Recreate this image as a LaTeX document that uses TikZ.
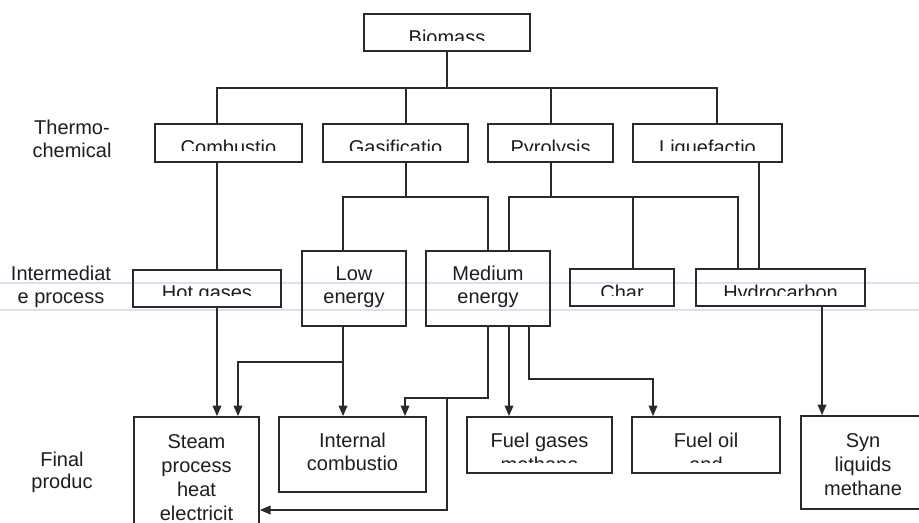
\documentclass[tikz,border=0pt]{standalone}
\usepackage{fontspec}
\setmainfont{Liberation Sans}
\usetikzlibrary{arrows.meta,fit}
\definecolor{linecol}{HTML}{2A2A2A}
\definecolor{textcol}{HTML}{1E1E1E}
\definecolor{guidecol}{HTML}{D8E1F2}
\begin{document}
\begin{tikzpicture}[x=0.75pt,y=-0.75pt,
  box/.style={draw=linecol, line width=1.25pt, inner sep=0pt, rectangle},
  ln/.style={draw=linecol, line width=1.25pt},
  arr/.style={ln, -{Triangle[length=8pt,width=6.5pt]}},
  txt/.style={anchor=base, inner sep=0pt, text=textcol, font=\fontsize{15}{18}\selectfont},
  guide/.style={draw=guidecol, line width=1.6pt}]
\useasboundingbox (0,0) rectangle (919,523);
\clip (0,0) rectangle (919,523);
\fill[white] (0,0) rectangle (919,523);

% faint ruled lines of the scan
\draw[guide] (0,283) -- (919,283);
\draw[guide] (0,310) -- (919,310);

% boxes
\node[box, fit={(364,14) (530,51)}] (bio) {};
\node[box, fit={(155,124) (302,162)}] (comb) {};
\node[box, fit={(323,124) (468,162)}] (gas) {};
\node[box, fit={(488,124) (613,162)}] (pyr) {};
\node[box, fit={(633,124) (782,162)}] (liq) {};
\node[box, fit={(133,270) (281,307)}] (hot) {};
\node[box, fit={(302,251) (406,326)}] (low) {};
\node[box, fit={(426,251) (550,326)}] (med) {};
\node[box, fit={(570,269) (674,306)}] (char) {};
\node[box, fit={(696,269) (865,306)}] (hyd) {};
\node[box, fit={(134,417) (259,545)}] (steam) {};
\node[box, fit={(279,417) (426,492)}] (int) {};
\node[box, fit={(467,417) (612,473)}] (fuelg) {};
\node[box, fit={(632,417) (780,473)}] (fuelo) {};
\node[box, fit={(801,416) (930,509)}] (syn) {};

% clipped box texts
\begin{scope}\clip (bio.north west) rectangle (bio.east |- 0,41);
  \node[txt] (tbio) at (447,44.3) {Biomass};\end{scope}
\begin{scope}\clip (comb.north west) rectangle (comb.east |- 0,151);
  \node[txt] (tcomb) at (228.5,154.3) {Combustio};\end{scope}
\begin{scope}\clip (gas.north west) rectangle (gas.east |- 0,151);
  \node[txt] (tgas) at (395.5,154.3) {Gasificatio};\end{scope}
\begin{scope}\clip (pyr.north west) rectangle (pyr.east |- 0,151);
  \node[txt] (tpyr) at (550.5,154.3) {Pyrolysis};\end{scope}
\begin{scope}\clip (liq.north west) rectangle (liq.east |- 0,151);
  \node[txt] (tliq) at (707.5,154.3) {Liquefactio};\end{scope}
\begin{scope}\clip (hot.north west) rectangle (hot.east |- 0,296);
  \node[txt] (thot) at (207,299.3) {Hot gases};\end{scope}
\begin{scope}\clip (char.north west) rectangle (char.east |- 0,296);
  \node[txt] (tchar) at (622,299.3) {Char};\end{scope}
\begin{scope}\clip (hyd.north west) rectangle (hyd.east |- 0,296);
  \node[txt] (thyd) at (780.5,299.3) {Hydrocarbon};\end{scope}

% unclipped box texts
\node[txt] (tlow1) at (354,281) {Low};
\node[txt] (tlow2) at (354,304) {energy};
\node[txt] (tmed1) at (488,281) {Medium};
\node[txt] (tmed2) at (488,304) {energy};
\node[txt] (tst1) at (196.5,448) {Steam};
\node[txt] (tst2) at (196.5,472) {process};
\node[txt] (tst3) at (196.5,496) {heat};
\node[txt] (tst4) at (196.5,520) {electricit};
\node[txt] (tint1) at (352.5,447) {Internal};
\node[txt] (tint2) at (352.5,470) {combustio};
\node[txt] (tfg1) at (539.5,447) {Fuel gases};
\begin{scope}\clip (fuelg.west |- 0,420) rectangle (fuelg.east |- 0,462);
  \node[txt] (tfg2) at (539.5,471) {methane};\end{scope}
\node[txt] (tfo1) at (706,447) {Fuel oil};
\begin{scope}\clip (fuelo.west |- 0,420) rectangle (fuelo.east |- 0,462);
  \node[txt] (tfo2) at (706,471) {and};\end{scope}
\node[txt] (tsyn1) at (863,447) {Syn};
\node[txt] (tsyn2) at (863,471) {liquids};
\node[txt] (tsyn3) at (863,495) {methane};

% row labels
\node[txt] (lth1) at (72,135) {Thermo-};
\node[txt] (lth2) at (72,158) {chemical};
\node[txt] (lin1) at (61,281) {Intermediat};
\node[txt] (lin2) at (61,304) {e process};
\node[txt] (lfi1) at (62,466) {Final};
\node[txt] (lfi2) at (62,488) {produc};

% connectors
\coordinate (b1) at (217,88);
\coordinate (b2) at (717,88);
\coordinate (g1) at (406,88);
\coordinate (p1) at (551,88);
\draw[ln] (bio.south) -- (bio.south |- b1);
\draw[ln] (b1 |- comb.north) -- (b1) -- (b2) -- (b2 |- liq.north);
\draw[ln] (g1) -- (g1 |- gas.north);
\draw[ln] (p1) -- (p1 |- pyr.north);

\draw[ln] (b1 |- comb.south) -- (b1 |- hot.north);
\draw[arr] (b1 |- hot.south) -- (b1 |- steam.north);

\coordinate (c1) at (343,197);
\coordinate (c2) at (488,197);
\draw[ln] (g1 |- gas.south) -- (g1 |- c1);
\draw[ln] (c1 |- low.north) -- (c1) -- (c2) -- (med.north);

\coordinate (d1) at (509,197);
\coordinate (d2) at (738,197);
\coordinate (d3) at (633,197);
\draw[ln] (p1 |- pyr.south) -- (p1 |- d1);
\draw[ln] (d1 |- med.north) -- (d1) -- (d2) -- (d2 |- hyd.north);
\draw[ln] (d3) -- (d3 |- char.north);
\coordinate (l1) at (759,0);
\draw[ln] (l1 |- liq.south) -- (l1 |- hyd.north);

\coordinate (e1) at (343,362);
\coordinate (e2) at (238,362);
\draw[arr] (e1 |- low.south) -- (e1 |- int.north);
\draw[arr] (e1) -- (e2) -- (e2 |- steam.north);

\coordinate (f1) at (488,398);
\coordinate (f2) at (405,398);
\coordinate (f3) at (447,398);
\coordinate (f4) at (447,510);
\draw[arr] (med.south) -- (f1) -- (f2) -- (f2 |- int.north);
\draw[arr] (f3) -- (f4) -- (f4 -| steam.east);

\coordinate (h1) at (509,0);
\draw[arr] (h1 |- med.south) -- (h1 |- fuelg.north);
\coordinate (k1) at (529,379);
\coordinate (k2) at (653,379);
\draw[arr] (k1 |- med.south) -- (k1) -- (k2) -- (k2 |- fuelo.north);
\coordinate (m1) at (822,0);
\draw[arr] (m1 |- hyd.south) -- (m1 |- syn.north);
\end{tikzpicture}
\end{document}
